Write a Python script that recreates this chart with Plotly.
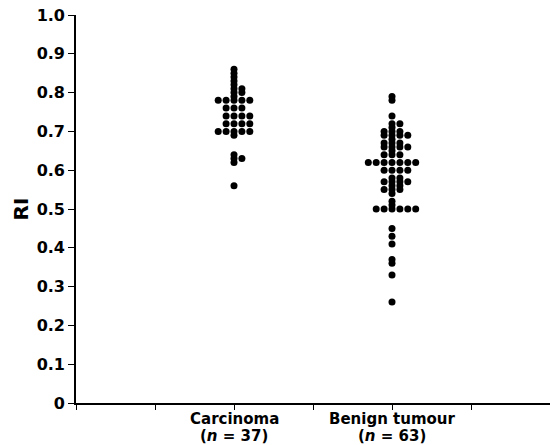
import plotly.graph_objects as go
from collections import Counter

categories = ["Carcinoma", "Benign tumour"]
counts_n = [37, 63]
cat_positions = [2, 4]  # category slots on the x axis (slots 0..6)

carcinoma_ri = (
    [0.86, 0.85, 0.84, 0.83, 0.82]
    + [0.81] * 2 + [0.80] * 2 + [0.79]
    + [0.78] * 5 + [0.76] * 3 + [0.74] * 4 + [0.72] * 4 + [0.70] * 5
    + [0.69] + [0.64] + [0.63] * 2 + [0.62] + [0.56]
)

benign_ri = (
    [0.79, 0.78, 0.74]
    + [0.72] * 2 + [0.71] + [0.70] * 3 + [0.69] * 4 + [0.68] + [0.67] * 3
    + [0.66] * 4 + [0.65] + [0.64] * 3
    + [0.62] * 7 + [0.60] * 4
    + [0.58] * 2 + [0.57] * 4 + [0.56] * 2 + [0.55] * 3 + [0.54] + [0.52] + [0.51]
    + [0.50] * 6
    + [0.45, 0.43, 0.41, 0.37, 0.36, 0.33, 0.26]
)

series = [carcinoma_ri, benign_ri]

y_tickvals = [0, 0.1, 0.2, 0.3, 0.4, 0.5, 0.6, 0.7, 0.8, 0.9, 1.0]
y_ticktext = ["0", "0.1", "0.2", "0.3", "0.4", "0.5", "0.6", "0.7", "0.8", "0.9", "1.0"]

STEP = 0.1  # horizontal spacing of stacked dots, in x units


def dotplot_x(values, center):
    """Arrange equal values side by side (dot-plot layout)."""
    seen = Counter()
    tot = Counter(values)
    xs = []
    for v in values:
        k = tot[v]
        i = seen[v]
        seen[v] += 1
        off = i - (k - 1) // 2
        xs.append(center + off * STEP)
    return xs


fig = go.Figure()
for vals, pos in zip(series, cat_positions):
    fig.add_trace(go.Scatter(
        x=dotplot_x(vals, pos), y=vals, mode="markers",
        marker=dict(color="black", size=7, line=dict(width=0)),
        showlegend=False, hoverinfo="skip",
    ))

font_family = "DejaVu Sans, Verdana, sans-serif"
lab_font = dict(family=font_family, size=15, color="black", weight="bold")

x_tickvals = [0, 1, 2, 3, 4, 5]
for c, n, p in zip(categories, counts_n, cat_positions):
    fig.add_annotation(x=p, y=0, xref="x", yref="paper", text=c,
                       showarrow=False, xanchor="center", yanchor="middle",
                       yshift=-16, borderpad=0, font=lab_font)
    fig.add_annotation(x=p, y=0, xref="x", yref="paper",
                       text=f"(<i>n</i> = {n})",
                       showarrow=False, xanchor="center", yanchor="middle",
                       yshift=-33, borderpad=0, font=lab_font)

fig.update_layout(
    width=550, height=445,
    margin=dict(l=76, r=0, t=15, b=42),
    paper_bgcolor="white", plot_bgcolor="white",
    xaxis=dict(
        range=[0, 6], tickvals=x_tickvals, showticklabels=False,
        showline=True, linecolor="black", linewidth=1.6,
        ticks="outside", ticklen=5, tickwidth=1, tickcolor="black",
        showgrid=False, zeroline=False, automargin=False,
    ),
    yaxis=dict(
        range=[0, 1], tickvals=y_tickvals, ticktext=y_ticktext,
        showline=True, linecolor="black", linewidth=1.6,
        ticks="outside", ticklen=6, tickwidth=1, tickcolor="black",
        showgrid=False, zeroline=False, automargin=False,
        tickfont=dict(family=font_family, size=16, color="black", weight="bold"),
        title=dict(text="RI", standoff=3,
                   font=dict(family=font_family, size=20, color="black", weight="bold")),
    ),
)

fig.write_html("out.html")
